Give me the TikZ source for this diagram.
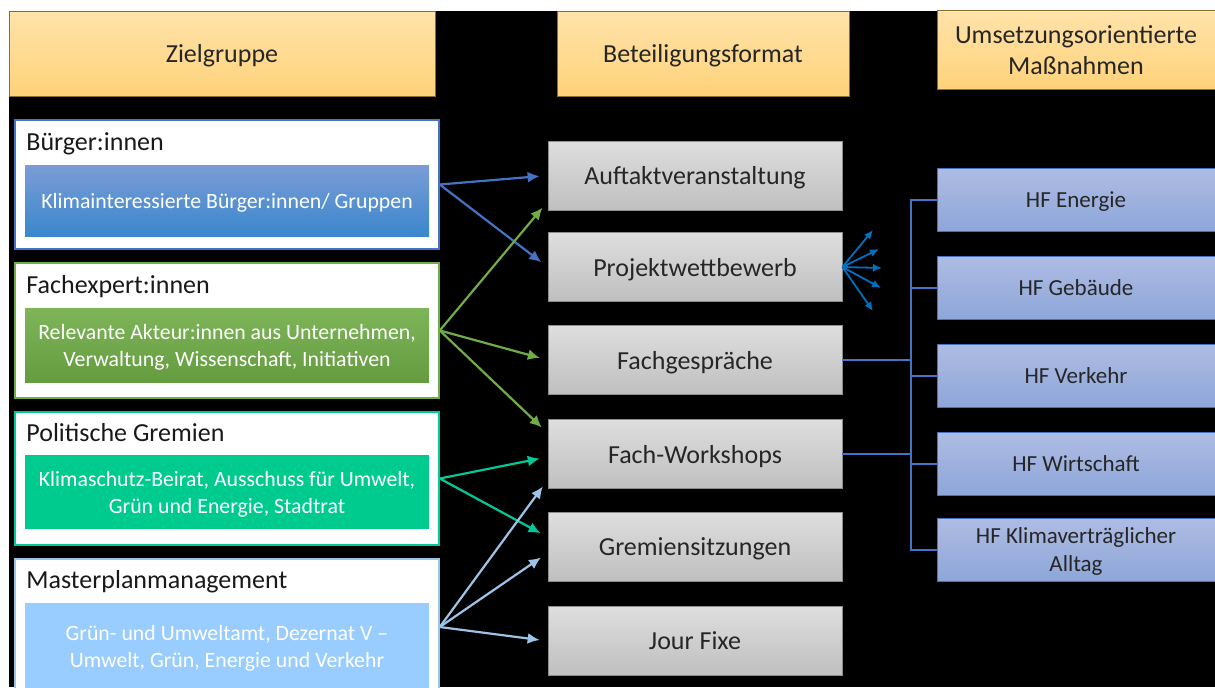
\documentclass[tikz,border=0pt]{standalone}
\usepackage{fontspec}
\setmainfont{Carlito}
\usetikzlibrary{calc, arrows.meta}

\definecolor{hdrtop}{HTML}{FFE3AA}
\definecolor{hdrbot}{HTML}{FFD27A}
\definecolor{hdrline}{HTML}{8C6D2C}
\definecolor{bcol}{HTML}{4472C4}
\definecolor{gcol}{HTML}{70AD47}
\definecolor{tcol}{HTML}{00C896}
\definecolor{lcol}{HTML}{9DC3E6}
\definecolor{mpfill}{HTML}{99CCFF}
\definecolor{fancol}{HTML}{0070C0}
\definecolor{hftop}{HTML}{AEBCE3}
\definecolor{hfbot}{HTML}{8DA6D9}

\begin{document}
\begin{tikzpicture}[x=0.5pt, y=-0.5pt,
  head/.style={rectangle, draw=hdrline, top color=hdrtop, bottom color=hdrbot, text=black!85, align=center, inner sep=0pt, text depth=0pt, font=\fontsize{13}{15.5}\selectfont},
  group/.style={rectangle, draw, fill=white, line width=0.75pt, minimum width=212pt, inner sep=0pt},
  title/.style={anchor=base west, inner sep=0pt, text=black!90, font=\fontsize{13}{15}\selectfont},
  inner/.style={rectangle, text=white, minimum width=202pt, align=center, inner sep=0pt, text depth=0pt, font=\fontsize{10.9}{13.5}\selectfont},
  format/.style={rectangle, draw=black!45, top color=black!13, bottom color=black!25, text=black!85, minimum width=147pt, minimum height=34.5pt, inner sep=0pt, text depth=0pt, font=\fontsize{13}{15}\selectfont},
  field/.style={rectangle, draw=bcol, top color=hftop, bottom color=hfbot, text=black!85, minimum width=139pt, minimum height=31.5pt, align=center, inner sep=0pt, text depth=0pt, font=\fontsize{11.5}{14}\selectfont},
  link/.style={-{Latex[length=6pt, width=5.5pt]}, line width=1.1pt, shorten >=4pt},
  fan/.style={-{Latex[length=4.5pt, width=4pt]}, draw=fancol, line width=0.9pt},
  tree/.style={draw=bcol, line width=0.8pt}]

\useasboundingbox (0,0) rectangle (1215,687);
\clip (0,0) rectangle (1215,687);
\fill [black] (9,11) rectangle (1215,687);

% headers
\node [head, minimum width=213pt, minimum height=42.5pt] (zg) at (222,53.5) {Zielgruppe};
\node [head, minimum width=146pt, minimum height=42.5pt] (bf) at (703,53.5) {Beteiligungsformat};
\node [head, minimum width=139pt, minimum height=39.5pt] (um) at (1076,50) {Umsetzungsorientierte\\Maßnahmen};

% target groups
\node [group, draw=bcol, minimum height=64.5pt] (bg) at (227,184.5) {};
\node [group, draw=gcol, minimum height=67.5pt] (fx) at (227,330.5) {};
\node [group, draw=tcol, minimum height=66.5pt] (pg) at (227,478.5) {};
\node [group, draw=lcol, minimum height=68pt] (mp) at (227,627) {};

\node [title] (bgt) at (26,150) {Bürger:innen};
\node [title] (fxt) at (26,293) {Fachexpert:innen};
\node [title] (pgt) at (26,441) {Politische Gremien};
\node [title] (mpt) at (26,588) {Masterplanmanagement};

\node [inner, top color=bcol!70!white, bottom color=bcol!85!cyan, minimum height=35.5pt] (bgi) at (227,200.5) {Klimainteressierte Bürger:innen/ Gruppen};
\node [inner, top color=gcol!90!white, bottom color=gcol!90!black, minimum height=37pt] (fxi) at (227,345) {Relevante Akteur:innen aus Unternehmen,\\Verwaltung, Wissenschaft, Initiativen};
\node [inner, fill=tcol!95!green, minimum height=37pt] (pgi) at (227,492) {Klimaschutz-Beirat, Ausschuss für Umwelt,\\Grün und Energie, Stadtrat};
\node [inner, fill=mpfill, minimum height=43.5pt] (mpi) at (227,646.5) {Grün- und Umweltamt, Dezernat V –\\Umwelt, Grün, Energie und Verkehr};

% formats
\node [format] (auf) at (695,175.5) {Auftaktveranstaltung};
\node [format] (proj) at (695,267) {Projektwettbewerb};
\node [format] (fg) at (695,360) {Fachgespräche};
\node [format] (fw) at (695,454) {Fach-Workshops};
\node [format] (gs) at (695,547) {Gremiensitzungen};
\node [format] (jf) at (695,641) {Jour Fixe};

% fields of action
\node [field] (hfe) at (1076,200) {HF Energie};
\node [field] (hfg) at (1076,288) {HF Gebäude};
\node [field] (hfv) at (1076,376) {HF Verkehr};
\node [field] (hfw) at (1076,464) {HF Wirtschaft};
\node [field] (hfa) at (1076,550) {HF Klimaverträglicher\\Alltag};

\draw [link, draw=bcol] (bg.east) to (auf.west);
\draw [link, draw=bcol] (bg.east) to (proj.west);

\draw [link, draw=gcol] (fx.east) to ($(auf.west)+(0,26)$);
\draw [link, draw=gcol] (fx.east) to (fg.west);
\draw [link, draw=gcol] (fx.east) to ($(fw.west)+(0,-21)$);

\draw [link, draw=tcol] (pg.east) to ($(fw.west)+(0,3)$);
\draw [link, draw=tcol] (pg.east) to ($(gs.west)+(0,-10)$);

\draw [link, draw=lcol] (mp.east) to ($(fw.west)+(0,26)$);
\draw [link, draw=lcol] (mp.east) to ($(gs.west)+(0,6)$);
\draw [link, draw=lcol] (mp.east) to (jf.west);

\coordinate (f1) at (873,230);
\coordinate (f2) at (879,249);
\coordinate (f3) at (882,268);
\coordinate (f4) at (881,288);
\coordinate (f5) at (873,311);
\draw [fan] (proj.east) to (f1);
\draw [fan] (proj.east) to (f2);
\draw [fan] (proj.east) to (f3);
\draw [fan] (proj.east) to (f4);
\draw [fan] (proj.east) to (f5);

\coordinate (spine) at (911,0);
\draw [tree] (hfe.west) -- (hfe.west -| spine) -- (hfa.west -| spine) -- (hfa.west);
\draw [tree] (hfg.west) -- (hfg.west -| spine);
\draw [tree] (hfv.west) -- (hfv.west -| spine);
\draw [tree] (hfw.west) -- (hfw.west -| spine);
\draw [tree] (fg.east) -- (fg.east -| spine);
\draw [tree] (fw.east) -- (fw.east -| spine);

\end{tikzpicture}
\end{document}
